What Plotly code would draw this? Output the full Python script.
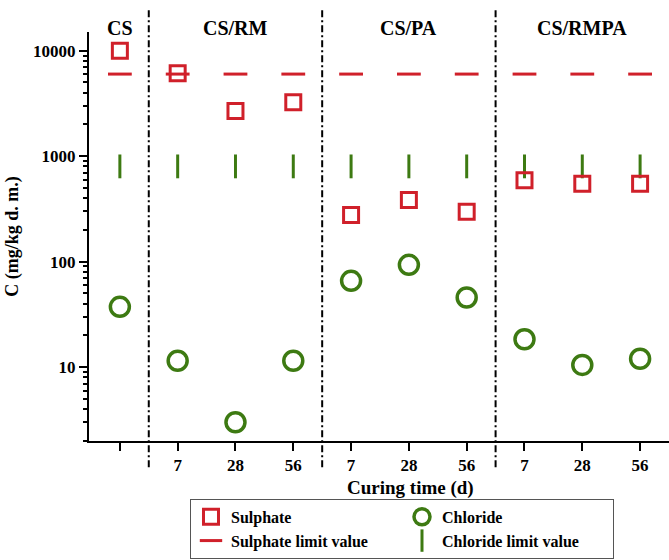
import plotly.graph_objects as go

# ---- data ----
positions = [0, 1, 2, 3, 4, 5, 6, 7, 8, 9]
tick_labels = ["", "7", "28", "56", "7", "28", "56", "7", "28", "56"]
groups = ["CS", "CS/RM", "CS/PA", "CS/RMPA"]
group_centers = [0, 2, 5, 8]
separators = [0.5, 3.5, 6.5]
sulphate = [10000, 6100, 2680, 3240, 277, 385, 298, 591, 548, 548]
chloride = [37.3, 11.5, 3.0, 11.5, 65.8, 93.3, 45.7, 18.4, 10.5, 12.0]
sulphate_limit = [6000] * 10
chloride_limit = [800] * 10
major_ticks = [10, 100, 1000, 10000]
major_labels = ["10", "100", "1000", "10000"]

RED = "#d0202a"
GREEN = "#3d7a12"
FONT = "Liberation Serif"

minor_ticks = [m * 10 ** d for d in range(0, 5) for m in range(2, 10)]

fig = go.Figure()
fig.add_trace(go.Scatter(x=positions, y=sulphate_limit, mode="markers",
                         name="Sulphate limit value", legendrank=3,
                         marker=dict(symbol="line-ew", size=17,
                                     line=dict(color=RED, width=3))))
fig.add_trace(go.Scatter(x=positions, y=chloride_limit, mode="markers",
                         name="Chloride limit value", legendrank=4,
                         marker=dict(symbol="line-ns", size=17,
                                     line=dict(color=GREEN, width=3))))
fig.add_trace(go.Scatter(x=positions, y=sulphate, mode="markers",
                         name="Sulphate", legendrank=1,
                         marker=dict(symbol="square-open", size=15, color=RED,
                                     line=dict(color=RED, width=3))))
fig.add_trace(go.Scatter(x=positions, y=chloride, mode="markers",
                         name="Chloride", legendrank=2,
                         marker=dict(symbol="circle-open", size=19, color=GREEN,
                                     line=dict(color=GREEN, width=3.5))))

for s in separators:
    fig.add_shape(type="line", xref="x", yref="paper", x0=s, x1=s,
                  y0=-0.064, y1=1.054,
                  line=dict(color="black", width=2, dash="7px,3px,2px,3px"))

for g, c in zip(groups, group_centers):
    fig.add_annotation(x=c, y=1.042, xref="x", yref="paper", text="<b>%s</b>" % g,
                       showarrow=False, font=dict(family=FONT, size=20, color="black"))

fig.add_annotation(x=5.02, y=-0.115, xref="x", yref="paper",
                   text="<b>Curing time (d)</b>", showarrow=False,
                   yanchor="middle",
                   font=dict(family=FONT, size=19, color="black"))

fig.update_layout(
    width=669, height=560,
    margin=dict(l=89, r=0, t=32, b=119, autoexpand=False),
    plot_bgcolor="white", paper_bgcolor="white",
    font=dict(family=FONT, color="black"),
    showlegend=True,
    legend=dict(orientation="h", xref="container", yref="container",
                x=0.284, xanchor="left", y=0.002, yanchor="bottom",
                entrywidth=166, entrywidthmode="pixels",
                bordercolor="#555555", borderwidth=1,
                font=dict(family=FONT, size=16, color="black", weight="bold"),
                itemwidth=30, tracegroupgap=0),
)

fig.update_xaxes(range=[-0.534, 9.5], tickvals=positions, ticktext=tick_labels,
                 showgrid=False, zeroline=False, showline=True, linecolor="black",
                 linewidth=2, ticks="outside", ticklen=8, tickwidth=2,
                 tickcolor="black",
                 tickfont=dict(family=FONT, size=17, color="black", weight="bold"))

fig.update_yaxes(type="log", range=[0.30, 4.177], tickvals=major_ticks,
                 ticktext=major_labels, showgrid=False, zeroline=False,
                 showline=True, linecolor="black", linewidth=2,
                 ticks="outside", ticklen=8, tickwidth=2, tickcolor="black",
                 tickfont=dict(family=FONT, size=17, color="black", weight="bold"),
                 minor=dict(tickvals=minor_ticks, ticks="outside", ticklen=4,
                            tickwidth=1.5, tickcolor="black", showgrid=False),
                 title=dict(text="<b>C (mg/kg d. m.)</b>", standoff=10,
                            font=dict(family=FONT, size=18, color="black")))

fig.write_html("out.html")
